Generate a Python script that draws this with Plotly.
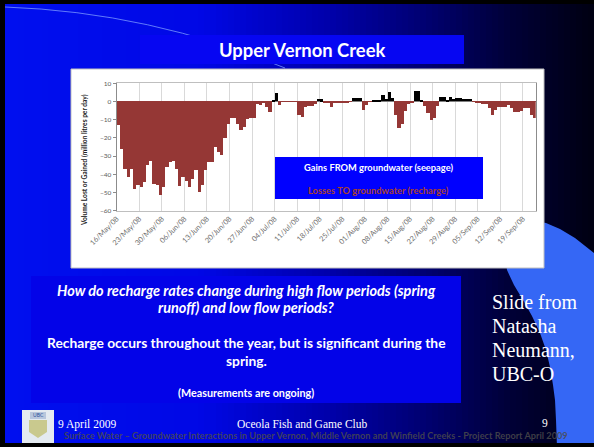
import numpy as np
import pandas as pd
import plotly.graph_objects as go

# ---------------- data ----------------
start_date = "2008-05-16"
net_exchange = [
    -13, -26, -37, -41.5, -37.5, -48.5, -46, -47, -44.5, -35,
    -33, -45.5, -46, -51.5, -47, -36, -33.5, -33, -37, -46.5,
    -41.5, -44, -47, -43, -38, -50, -46, -38, -33.5, -33.5,
    -25, -28, -29.5, -20, -12.5, -9.5, -9, -12.5, -16, -14,
    -10, -9, -9, -1.5, -2.3, -0.5, -3, -6, 0.5, 4.5,
    -2.3, -0.3, -0.3, -0.3, -0.3, -0.3, -7.5, -8.5, -3, -2.5,
    -2.5, -1.5, 1.2, 1.0, -0.5, -0.8, -3.4, -1, -1, -1,
    -1, -1, -0.3, 1.8, 1.8, 1.8, -4.7, -2, -0.3, 0.3,
    0.8, 0.8, 3.2, 1.4, 5, 1.8, -7.4, -14.7, -12.5, -5.6,
    -1.5, -0.8, 5.4, 5.4, 0.3, -2.8, -6.5, -10.2, -9.2, -2.8,
    2.3, 2.3, 0.3, 2.3, 1.2, 1.8, 1.8, 1.4, 1.4, 1.4,
    -0.3, -1, -1, -1.5, -1.5, -3.7, -7.8, -4.7, -3.4, -3.4,
    -3.4, -2, -4, -6, -6, -5.6, -3.7, -4, -7.8, -9.2,
]
dates = pd.date_range(start_date, periods=len(net_exchange), freq="D")
gains = [v if v > 0 else 0 for v in net_exchange]
losses = [v if v < 0 else 0 for v in net_exchange]

y_ticks = [10, 0, -10, -20, -30, -40, -50, -60]

title_text = "Upper Vernon Creek"
legend_gain = "Gains FROM groundwater (seepage)"
legend_loss = "Losses TO groundwater (recharge)"
y_title = "Volume Lost or Gained (million litres per day)"

# ---------------- layout helpers ----------------
W, H = 594, 447


def px(x):
    return x / W


def py(y):
    return 1 - y / H


def rect(x0, y0, x1, y1, fill, line=None, lw=0, layer="below"):
    return dict(type="rect", xref="paper", yref="paper",
                x0=px(x0), x1=px(x1), y0=py(y1), y1=py(y0),
                fillcolor=fill, line=dict(color=line or fill, width=lw),
                layer=layer)


def path(points, fill=None, line=None, lw=0, closed=True, layer="below", curve=None):
    if curve:
        d = curve
    else:
        d = "M " + " L ".join(f"{px(x):.5f},{py(y):.5f}" for x, y in points)
        if closed:
            d += " Z"
    s = dict(type="path", xref="paper", yref="paper", path=d, layer=layer,
             line=dict(color=line or "rgba(0,0,0,0)", width=lw))
    if fill:
        s["fillcolor"] = fill
    return s


shapes = []

# background horizontal gradient
gx = [0, 200, 330, 430, 510, 594]
gb = [[0, 16, 240], [0, 8, 230], [0, 0, 170], [0, 0, 110], [0, 0, 55], [0, 0, 18]]
step = 6
for x0 in range(0, W, step):
    c = x0 + step / 2
    r = np.interp(c, gx, [g[0] for g in gb])
    g = np.interp(c, gx, [g[1] for g in gb])
    b = np.interp(c, gx, [g[2] for g in gb])
    col = f"rgb({int(r)},{int(g)},{int(b)})"
    shapes.append(rect(x0, 0, x0 + step + 0.6, H, col))

# light blue swoosh at lower right
swoosh = [(594, 253), (575, 238), (560, 229), (546, 223), (530, 220), (515, 225),
          (507, 240), (505, 255), (507, 270), (514, 285), (523, 300), (532, 316),
          (540, 333), (546, 350), (550, 367), (553, 385), (555, 400), (556, 420),
          (557, 447), (594, 447)]
shapes.append(path(swoosh, fill="#3567F5"))

# thin light arc at top-left
arc = f"M {px(5):.5f},{py(7):.5f} Q {px(150):.5f},{py(12):.5f} {px(285):.5f},{py(68):.5f}"
shapes.append(path(None, line="rgba(120,150,255,0.8)", lw=1, curve=arc))

# title band
shapes.append(rect(140, 35, 464, 64, "#0606F2"))
# chart panel
shapes.append(rect(71, 69, 544, 268, "white", line="#BFBFBF", lw=1))
# text box
shapes.append(rect(31, 276, 461, 403, "#0303E8"))
# black frame
shapes.append(rect(0, 0, W, 4, "black"))
shapes.append(rect(0, 0, 5, H, "black"))
shapes.append(rect(0, 443, W, H, "black"))
# logo
shapes.append(rect(22, 410, 54, 443, "#E4EAF0"))
shapes.append(path([(29, 420), (47, 420), (47, 432), (38, 438), (29, 432)], fill="#C9C98E"))
shapes.append(rect(30, 412, 46, 419, "#B8C6DC"))
# legend box above chart
shapes.append(rect(275, 157, 483, 199, "#0000FF", layer="above"))

font_sans = "Lato"
annotations = [
    dict(text=f"<b>{title_text}</b>", x=px(302), y=py(50), font=dict(size=18.4, color="white", family=font_sans)),
    dict(text=f"<b>{legend_gain}</b>", x=px(378), y=py(167), font=dict(size=9.3, color="white", family=font_sans)),
    dict(text=f"<b>{legend_loss}</b>", x=px(378), y=py(190), font=dict(size=9.3, color="#A8402C", family=font_sans)),
    dict(text=f"<b>{y_title}</b>", x=px(84), y=py(160), textangle=-90,
         font=dict(size=6.6, color="#222", family=font_sans)),
    dict(text="<b><i>How do recharge rates change during high flow periods (spring</i></b>",
         x=px(246), y=py(290), font=dict(size=14.5, color="white", family=font_sans)),
    dict(text="<b><i>runoff) and low flow periods?</i></b>",
         x=px(246), y=py(307), font=dict(size=14.5, color="white", family=font_sans)),
    dict(text="<b>Recharge occurs throughout the year, but is significant during the</b>",
         x=px(246), y=py(342), font=dict(size=13.8, color="white", family=font_sans)),
    dict(text="<b>spring.</b>", x=px(246), y=py(360), font=dict(size=13.8, color="white", family=font_sans)),
    dict(text="<b>(Measurements are ongoing)</b>", x=px(246), y=py(392),
         font=dict(size=10.8, color="white", family=font_sans)),
    dict(text="9 April 2009", x=px(56), y=py(424), xanchor="left",
         font=dict(size=11.5, color="white", family="Liberation Serif")),
    dict(text="Oceola Fish and Game Club", x=px(302), y=py(424),
         font=dict(size=11.5, color="white", family="Liberation Serif")),
    dict(text="9", x=px(545), y=py(423), font=dict(size=11.5, color="white", family="Liberation Serif")),
    dict(text="<b>Surface Water \u2013 Groundwater Interactions in Upper Vernon, Middle Vernon and Winfield Creeks - Project Report April 2009</b>",
         x=px(316), y=py(435), font=dict(size=9.2, color="rgba(75,75,75,0.85)", family=font_sans)),
    dict(text="UBC", x=px(38), y=py(415), font=dict(size=5, color="#2C4E9A", family=font_sans)),
]
for i, line in enumerate(["Slide from", "Natasha", "Neumann,", "UBC-O"]):
    annotations.append(dict(text=line, x=px(490), y=py(302 + i * 24), xanchor="left",
                            font=dict(size=20, color="white", family="Liberation Serif")))
for a in annotations:
    a.update(xref="paper", yref="paper", showarrow=False)
    a.setdefault("xanchor", "center")
    a.setdefault("yanchor", "middle")

DAY_MS = 86400000
fig = go.Figure()
fig.add_trace(go.Bar(x=dates, y=losses, name=legend_loss, marker=dict(color="#953735", line=dict(width=0)),
                     width=DAY_MS, offset=0))
fig.add_trace(go.Bar(x=dates, y=gains, name=legend_gain, marker=dict(color="black", line=dict(width=0)),
                     width=DAY_MS, offset=0))

x0_px, x1_px = 116.7, 535.7
ytop_px, ybot_px = 83.3, 210.7
fig.update_layout(
    template="none",
    width=W, height=H,
    margin=dict(l=0, r=0, t=0, b=0),
    paper_bgcolor="#0000C0",
    plot_bgcolor="rgba(0,0,0,0)",
    barmode="relative",
    bargap=0,
    showlegend=False,
    shapes=shapes,
    annotations=annotations,
    xaxis=dict(
        domain=[px(x0_px), px(x1_px)],
        type="date",
        range=[dates[0], dates[-1] + pd.Timedelta(days=1)],
        tick0=start_date, dtick=7 * DAY_MS, tickformat="%d/%b/%y",
        tickangle=-45, tickfont=dict(size=7.3, color="#6E6E6E", family=font_sans),
        showgrid=True, gridcolor="#D9D9D9", gridwidth=1,
        showline=True, linecolor="#BFBFBF", linewidth=1, mirror=True,
        ticks="", automargin=False, zeroline=False,
    ),
    yaxis=dict(
        domain=[py(ybot_px), py(ytop_px)],
        range=[-60, 10],
        tickvals=y_ticks,
        tickfont=dict(size=6.5, color="#5A5A5A", family=font_sans),
        showgrid=False,
        zeroline=True, zerolinecolor="#7F7F7F", zerolinewidth=1,
        showline=True, linecolor="#8C8C8C", linewidth=1, mirror=True,
        ticks="outside", ticklen=3, tickcolor="#8C8C8C",
        automargin=False,
    ),
)

fig.write_html(
    "out.html",
    config={"displayModeBar": False},
    post_script="document.body.style.margin='0';document.body.style.overflow='hidden';",
)
